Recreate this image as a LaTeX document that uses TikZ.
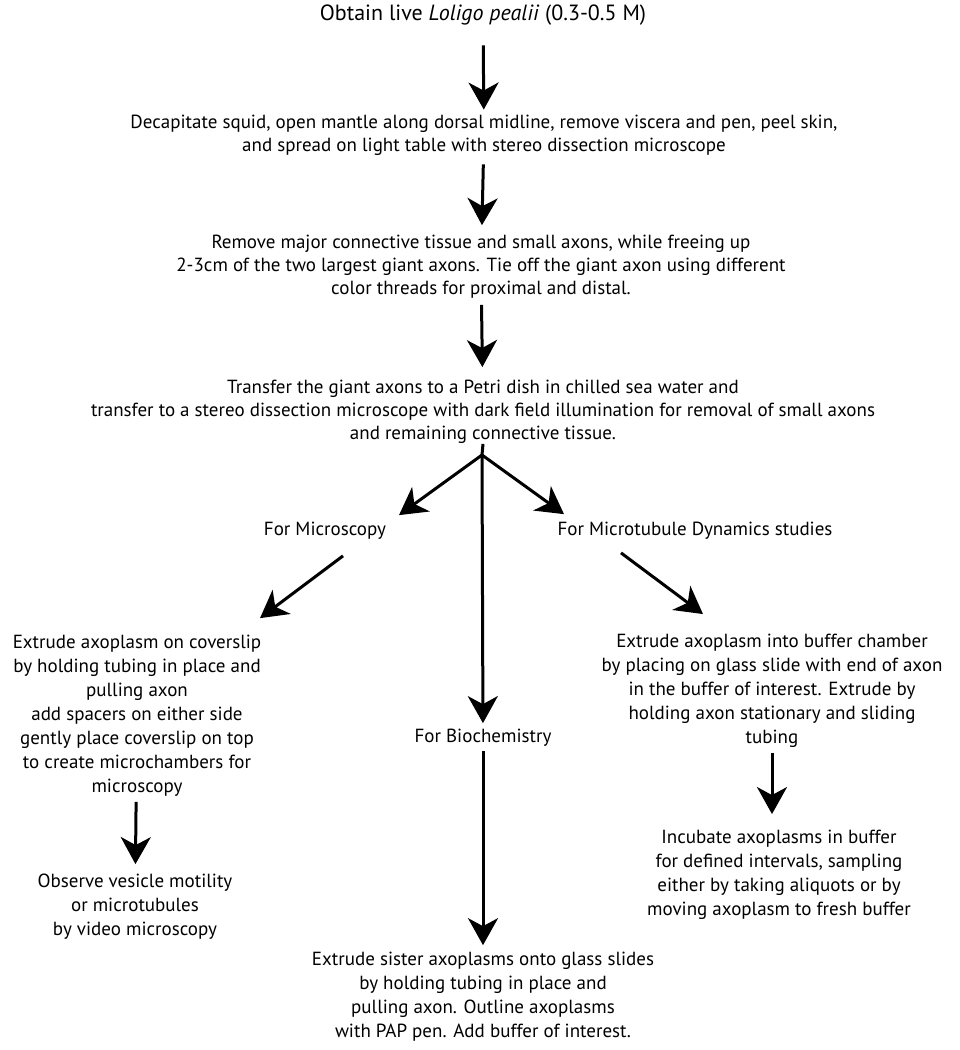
\documentclass[tikz,border=0pt]{standalone}
\usepackage{fontspec}
\setmainfont{PT Sans}
\usetikzlibrary{arrows.meta}

\begin{document}
\begin{tikzpicture}[x=1pt,y=-1pt]
\tikzset{etape/.style={align=center, inner sep=0pt, font=\fontsize{19}{24}\selectfont}}
\tikzset{haut/.style={etape, font=\fontsize{19}{23}\selectfont}}
\tikzset{fleche/.style={line width=3pt, -{Stealth[length=27pt,width=30pt,inset=8pt]}}}
\useasboundingbox (0,0) rectangle (959,1050);
\node[etape, font=\fontsize{22}{24}\selectfont] (E1) at (483,15) {Obtain live \textit{Loligo pealii} (0.3-0.5 M)};
\node[haut] (E2) at (484,135) {Decapitate squid, open mantle along dorsal midline, remove viscera and pen, peel skin,\\and spread on light table with stereo dissection microscope};
\node[haut] (E3) at (481,267) {Remove major connective tissue and small axons, while freeing up\\2-3cm of the two largest giant axons. Tie off the giant axon using different\\color threads for proximal and distal.};
\node[haut] (E4) at (483,412) {Transfer the giant axons to a Petri dish in chilled sea water and\\transfer to a stereo dissection microscope with dark field illumination for removal of small axons\\and remaining connective tissue.};
\coordinate (B) at (482,455);
\node[etape] (M1) at (325,531) {For Microscopy};
\node[etape] (R1) at (695,531) {For Microtubule Dynamics studies};
\node[etape] (C1) at (483,738) {For Biochemistry};
\node[etape] (L1) at (137,716) {Extrude axoplasm on coverslip\\by holding tubing in place and\\pulling axon\\add spacers on either side\\gently place coverslip on top\\to create microchambers for\\microscopy};
\node[etape] (L2) at (135,907) {Observe vesicle motility\\or microtubules\\by video microscopy};
\node[etape] (C2) at (483,997) {Extrude sister axoplasms onto glass slides\\by holding tubing in place and\\pulling axon. Outline axoplasms\\with PAP pen. Add buffer of interest.};
\node[etape] (R2) at (772,691) {Extrude axoplasm into buffer chamber\\by placing on glass slide with end of axon\\in the buffer of interest. Extrude by\\holding axon stationary and sliding\\tubing};
\node[etape] (R3) at (779,875) {Incubate axoplasms in buffer\\for defined intervals, sampling\\either by taking aliquots or by\\moving axoplasm to fresh buffer};
\draw[fleche, shorten <=20pt, shorten >=5pt] (E1) -- (E2);
\draw[fleche, shorten <=9pt, shorten >=10pt] (E2) -- (E3);
\draw[fleche, shorten <=6pt, shorten >=13pt] (E3) -- (E4);
\draw[line width=3pt] (E4.south) -- (B);
\draw[fleche] (B) -- ([xshift=74pt,yshift=7pt]M1.north);
\draw[fleche] (B) -- ([xshift=-131pt,yshift=8pt]R1.north);
\draw[fleche, shorten >=6pt] (B) -- (C1);
\draw[fleche, shorten <=4pt, shorten >=7pt] (C1) -- (C2);
\draw[fleche] ([xshift=18pt,yshift=-16pt]M1.south) -- ([xshift=123pt,yshift=17pt]L1.north);
\draw[fleche] ([xshift=-74pt,yshift=-13pt]R1.south) -- ([xshift=-69pt,yshift=20pt]R2.north);
\draw[fleche, shorten <=5pt, shorten >=10pt] (L1) -- (L2);
\draw[fleche, shorten <=5pt, shorten >=16pt] (R2.south) -- (R2.south |- R3.north);
\end{tikzpicture}
\end{document}
